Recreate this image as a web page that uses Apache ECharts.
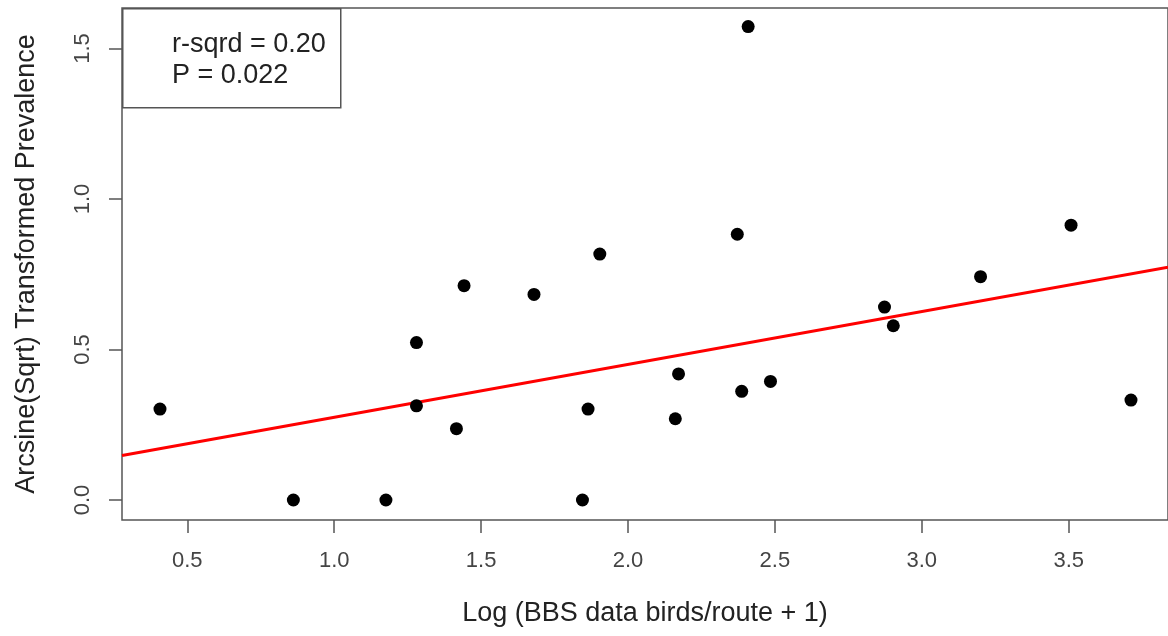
<!DOCTYPE html>
<html>
<head>
<meta charset="utf-8">
<script src="https://cdn.jsdelivr.net/npm/echarts@6/dist/echarts.min.js"></script>
<style>
html,body{margin:0;padding:0;background:#fff;}
#chart{width:1168px;height:636px;}
</style>
</head>
<body>
<div id="chart"></div>
<script>
// Data
var xValues = [0.407, 0.861, 1.176, 1.280, 1.280, 1.416, 1.442, 1.680, 1.845, 1.864, 1.904,
               2.161, 2.172, 2.372, 2.387, 2.409, 2.485, 2.873, 2.903, 3.200, 3.508, 3.712];
var yValues = [0.302, 0.000, 0.000, 0.523, 0.313, 0.237, 0.712, 0.683, 0.000, 0.302, 0.817,
               0.270, 0.419, 0.883, 0.361, 1.573, 0.394, 0.641, 0.579, 0.742, 0.913, 0.332];
// Fitted regression line endpoints
var fitX = [0.2777, 3.838];
var fitY = [0.148, 0.773];
var xTicks = [0.5, 1.0, 1.5, 2.0, 2.5, 3.0, 3.5];
var yTicks = [0.0, 0.5, 1.0, 1.5];
var xTitle = 'Log (BBS data birds/route + 1)';
var yTitle = 'Arcsine(Sqrt) Transformed Prevalence';
var statLines = ['r-sqrd = 0.20', 'P = 0.022'];

var FONT = '"Liberation Sans", Arial, sans-serif';
var AX = '#555555';

var points = xValues.map(function (x, i) { return [x, yValues[i]]; });
var fitData = fitX.map(function (x, i) { return [x, fitY[i]]; });

var chart = echarts.init(document.getElementById('chart'), null, {renderer: 'canvas'});
chart.setOption({
  animation: false,
  backgroundColor: '#ffffff',
  grid: {
    left: 122, top: 8, right: -3, bottom: 116,
    show: true, borderColor: AX, borderWidth: 1.5, backgroundColor: 'transparent'
  },
  xAxis: {
    type: 'value',
    min: 0.2777, max: 3.838,
    splitLine: {show: false},
    axisLine: {show: false, onZero: false},
    axisTick: {show: true, inside: false, length: 13, customValues: xTicks,
               lineStyle: {color: AX, width: 1.5}},
    axisLabel: {show: true, customValues: xTicks, margin: 30,
                fontFamily: FONT, fontSize: 22, color: '#444',
                formatter: function (v) { return v.toFixed(1); }},
    name: xTitle, nameLocation: 'middle', nameGap: 80,
    nameTextStyle: {fontFamily: FONT, fontSize: 27, color: '#222'}
  },
  yAxis: {
    type: 'value',
    min: -0.0664, max: 1.6346,
    splitLine: {show: false},
    axisLine: {show: false, onZero: false},
    axisTick: {show: true, inside: false, length: 13, customValues: yTicks,
               lineStyle: {color: AX, width: 1.5}},
    axisLabel: {show: true, customValues: yTicks, margin: 28, rotate: 90,
                fontFamily: FONT, fontSize: 22, color: '#444',
                formatter: function (v) { return v.toFixed(1); }},
    name: yTitle, nameLocation: 'middle', nameGap: 82, nameRotate: 90,
    nameTextStyle: {fontFamily: FONT, fontSize: 27, color: '#222'}
  },
  series: [
    {
      type: 'line', data: fitData, symbol: 'none', clip: true,
      lineStyle: {color: '#ff0000', width: 3}, z: 2
    },
    {
      type: 'scatter', data: points, symbol: 'circle', symbolSize: 13,
      itemStyle: {color: '#000000', opacity: 1}, z: 3
    }
  ],
  graphic: [
    {type: 'rect', left: 122, top: 8, z: 10,
     shape: {width: 218, height: 99},
     style: {fill: '#ffffff', stroke: AX, lineWidth: 1.5}},
    {type: 'text', left: 172, top: 31, z: 11,
     style: {text: statLines[0], font: '27px ' + FONT, fill: '#222'}},
    {type: 'text', left: 172, top: 62, z: 11,
     style: {text: statLines[1], font: '27px ' + FONT, fill: '#222'}}
  ]
});
</script>
</body>
</html>
